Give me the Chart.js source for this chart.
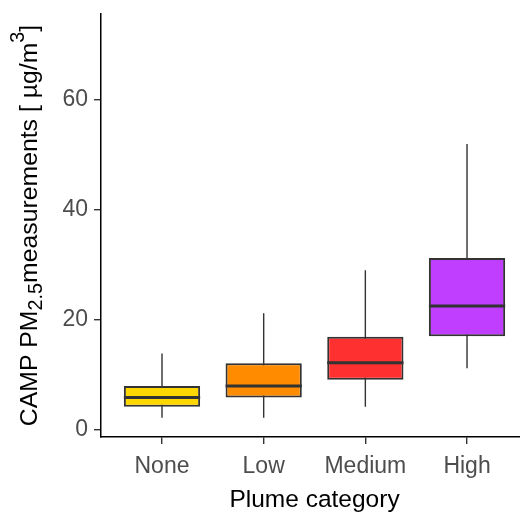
<!DOCTYPE html>
<html>
<head>
<meta charset="UTF-8">
<title>CAMP PM2.5 by plume category</title>
<style>
  body { margin: 0; background: #fff; }
  canvas { display: block; }
</style>
</head>
<body>
<canvas id="boxChart" width="520" height="512"></canvas>
<script src="https://cdn.jsdelivr.net/npm/chart.js@4"></script>
<script>
// values
const categories = ['None', 'Low', 'Medium', 'High'];
const whiskerLow = [2.2, 2.2, 4.2, 11.2];
const q1 = [4.2, 5.9, 9.1, 17.0];
const median = [5.9, 8.0, 12.2, 22.5];
const q3 = [8.0, 12.1, 16.9, 31.2];
const whiskerHigh = [13.9, 21.2, 29.0, 51.9];
const boxColors = ['#FFD700', '#FF8C00', '#FF3030', '#BF3EFF'];
const yTickValues = [0, 20, 40, 60];

const FONT = '"Liberation Sans", Arial, sans-serif';
const BOX_WIDTH = 0.75;

// build the series the library needs
const xs = categories.map((c, i) => i + 1);
const boxData = xs.map((x, i) => ({ x: x, y: [q1[i], q3[i]] }));
const whiskerData = [];
const medianData = [];
xs.forEach((x, i) => {
    whiskerData.push({ x: x, y: whiskerLow[i] }, { x: x, y: whiskerHigh[i] }, { x: x, y: null });
    medianData.push({ x: x - BOX_WIDTH / 2, y: median[i] }, { x: x + BOX_WIDTH / 2, y: median[i] }, { x: x, y: null });
});

// axis titles, the y one has a subscript and a superscript
const axisTitles = {
    id: 'axisTitles',
    afterDraw(chart) {
        const ctx = chart.ctx;
        const area = chart.chartArea;
        const xScale = chart.scales.x;
        ctx.save();
        ctx.fillStyle = '#000';
        ctx.textBaseline = 'alphabetic';

        ctx.font = '24.5px ' + FONT;
        ctx.textAlign = 'center';
        ctx.fillText('Plume category', xScale.getPixelForValue(2.5), 507);

        const parts = [
            { t: 'CAMP PM', size: 24.8, shift: 0 },
            { t: '2.5', size: 19.8, shift: 5 },
            { t: 'measurements [ \u00B5g/m', size: 24.8, shift: 0 },
            { t: '3', size: 19.8, shift: -13 },
            { t: ']', size: 24.8, shift: 0 }
        ];
        let total = 0;
        parts.forEach(p => {
            ctx.font = p.size + 'px ' + FONT;
            p.w = ctx.measureText(p.t).width;
            total += p.w;
        });
        ctx.translate(36.7, (area.top + area.bottom) / 2);
        ctx.rotate(-Math.PI / 2);
        ctx.textAlign = 'left';
        let pos = -total / 2;
        parts.forEach(p => {
            ctx.font = p.size + 'px ' + FONT;
            ctx.fillText(p.t, pos, p.shift);
            pos += p.w;
        });
        ctx.restore();
    }
};

new Chart(document.getElementById('boxChart'), {
    type: 'bar',
    data: {
        datasets: [
            {
                type: 'line',
                data: whiskerData,
                borderColor: '#333333',
                borderWidth: 1.4,
                pointRadius: 0,
                spanGaps: false,
                order: 3
            },
            {
                type: 'bar',
                data: boxData,
                backgroundColor: boxColors,
                borderColor: '#333333',
                borderWidth: 2,
                borderSkipped: false,
                barPercentage: BOX_WIDTH,
                categoryPercentage: 1,
                grouped: false,
                order: 2
            },
            {
                type: 'line',
                data: medianData,
                borderColor: '#333333',
                borderWidth: 3,
                pointRadius: 0,
                spanGaps: false,
                order: 1
            }
        ]
    },
    options: {
        responsive: false,
        animation: false,
        layout: { padding: { top: 14, left: 0, right: 0, bottom: 0 } },
        plugins: {
            legend: { display: false },
            tooltip: { enabled: false }
        },
        scales: {
            x: {
                type: 'linear',
                offset: false,
                min: 0.4,
                max: 4.521,
                afterBuildTicks(scale) { scale.ticks = xs.map(v => ({ value: v })); },
                afterFit(scale) {
                    scale.height = 75;
                    scale.paddingLeft = 0;
                    scale.paddingRight = 0;
                },
                ticks: {
                    callback: v => categories[v - 1],
                    font: { family: FONT, size: 23 },
                    color: '#4D4D4D',
                    padding: 9,
                    maxRotation: 0,
                    autoSkip: false
                },
                grid: { display: true, offset: false, drawOnChartArea: false, drawTicks: true, tickLength: 7, color: '#333333', lineWidth: 1.4 },
                border: { display: true, color: '#000000', width: 1.5 }
            },
            y: {
                min: -1.27,
                max: 75.47,
                afterBuildTicks(scale) { scale.ticks = yTickValues.map(v => ({ value: v })); },
                afterFit(scale) {
                    scale.width = 101;
                    scale.paddingTop = 0;
                    scale.paddingBottom = 0;
                },
                ticks: {
                    font: { family: FONT, size: 23 },
                    color: '#4D4D4D',
                    padding: 6
                },
                grid: { display: true, drawOnChartArea: false, drawTicks: true, tickLength: 7, color: '#333333', lineWidth: 1.4 },
                border: { display: true, color: '#000000', width: 1.5 }
            }
        }
    },
    plugins: [axisTitles]
});
</script>
</body>
</html>
